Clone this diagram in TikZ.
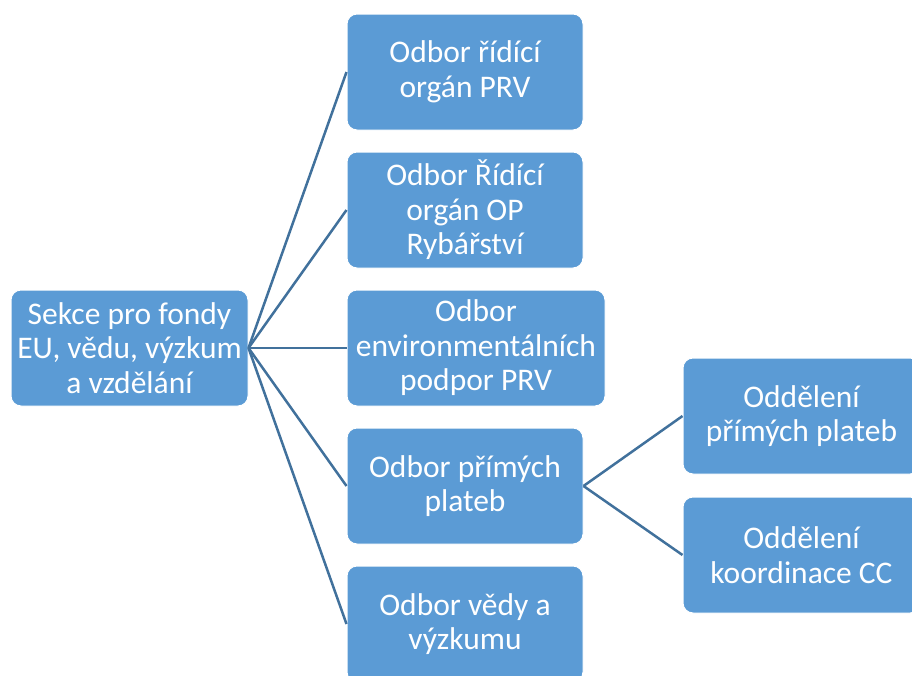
\documentclass[tikz,border=0pt]{standalone}
\usepackage{fontspec}
\setmainfont{Carlito}
\definecolor{boxblue}{HTML}{5B9BD5}
\definecolor{lineblue}{HTML}{41719C}

\begin{document}
\begin{tikzpicture}[x=1pt,y=-1pt,
	box/.style={rectangle,rounded corners=10pt,fill=boxblue,draw=white,line width=1pt,
		text=white,align=center,inner sep=0pt,minimum width=236pt,minimum height=116pt,
		font=\fontsize{31.5}{34.5}\selectfont},
	link/.style={draw=lineblue,line width=2.5pt}]
	\useasboundingbox (0,0) rectangle (912,675);
	\clip (0,0) rectangle (912,675);
	% koren
	\node[box,minimum width=237pt] (sekce) at (129.5,348) {Sekce pro fondy\\EU, vědu, výzkum\\a vzdělání};
	% odbory
	\node[box] (odbor1) at (465,72) {Odbor řídící\\orgán PRV};
	\node[box] (odbor2) at (465,210) {Odbor Řídící\\orgán OP\\Rybářství};
	\node[box,minimum width=258pt] (odbor3) at (476,348) {Odbor\\environmentálních\\podpor PRV};
	\node[box] (odbor4) at (465,486) {Odbor přímých\\plateb};
	\node[box] (odbor5) at (465,624) {Odbor vědy a\\výzkumu};
	% oddeleni
	\node[box,minimum width=237pt] (oddel1) at (801.5,416) {Oddělení\\přímých plateb};
	\node[box,minimum width=237pt] (oddel2) at (801.5,555) {Oddělení\\koordinace CC};
	\foreach \n in {1,...,5}{
		\draw[link] (sekce.east)--(odbor\n.west);
	}
	\foreach \n in {1,2}{
		\draw[link] (odbor4.east)--(oddel\n.west);
	}
\end{tikzpicture}
\end{document}
